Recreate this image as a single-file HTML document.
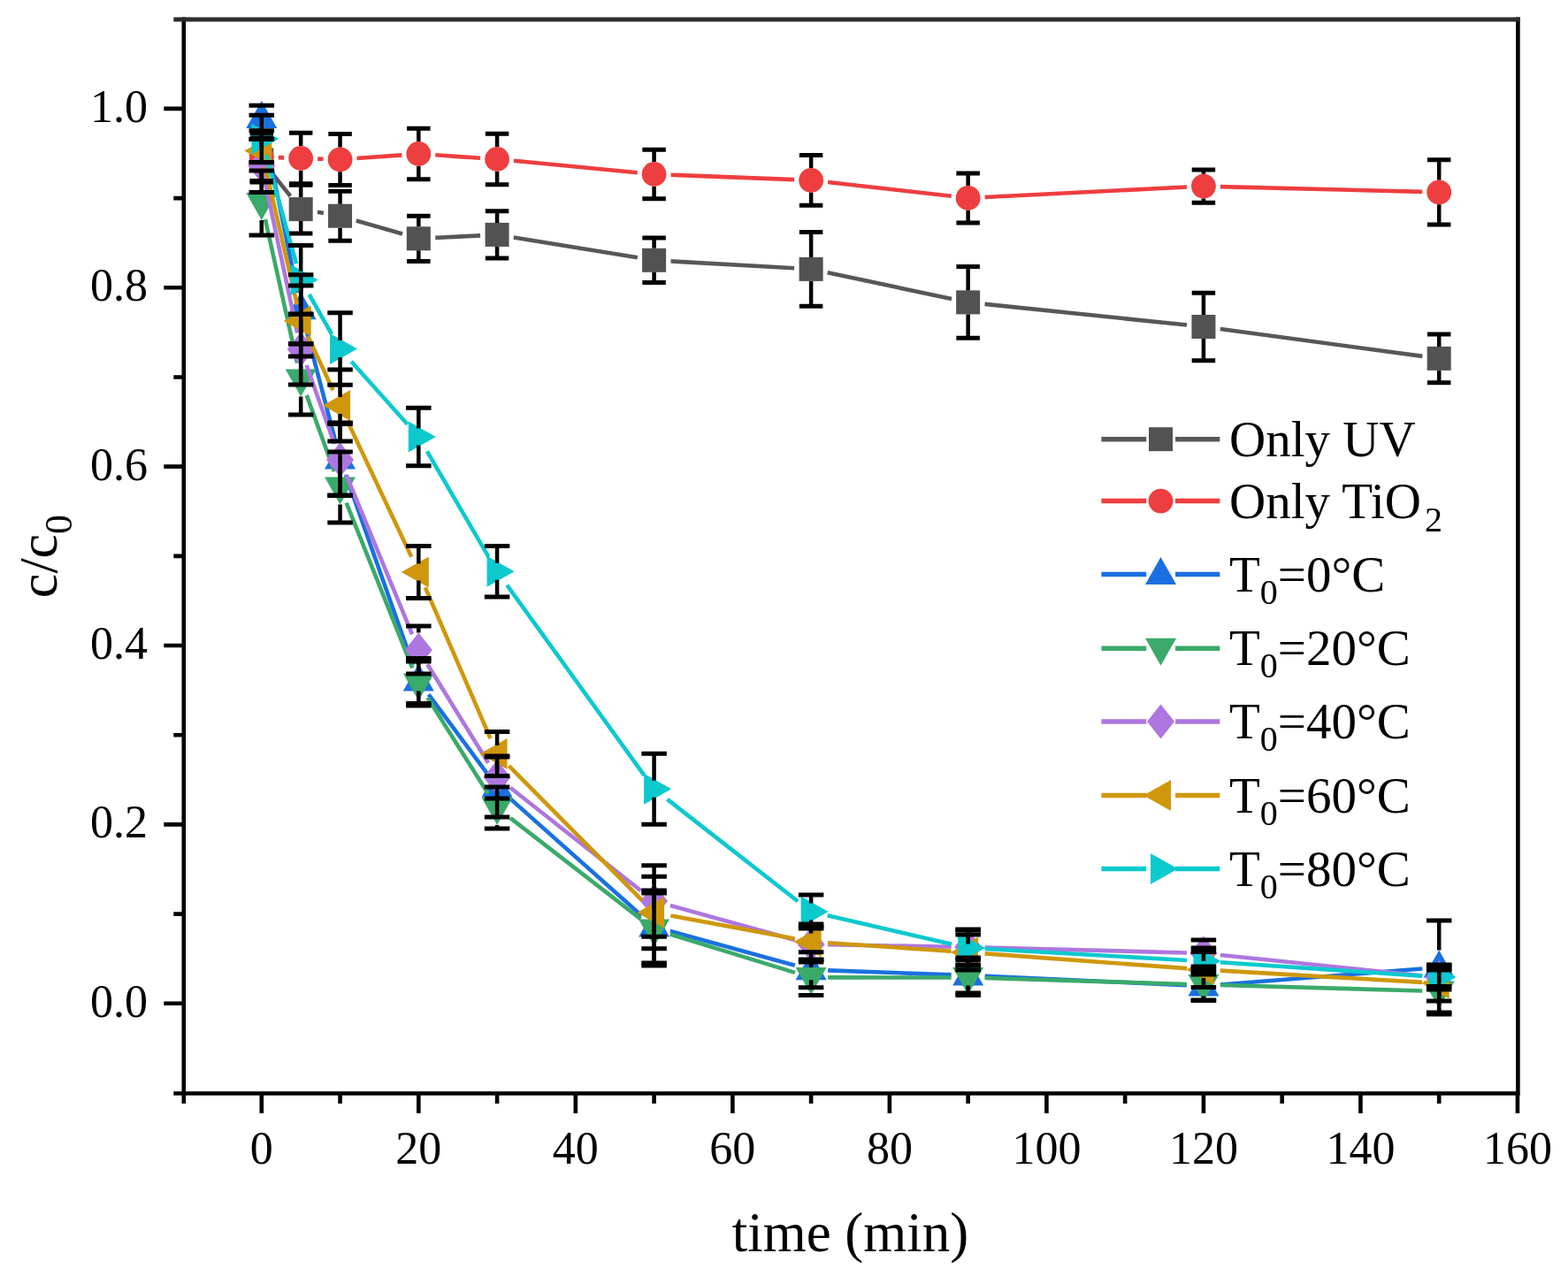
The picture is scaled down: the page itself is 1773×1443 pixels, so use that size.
<!DOCTYPE html>
<html><head><meta charset="utf-8"><style>
html,body{margin:0;padding:0;background:#fff;}
svg{display:block;}
text{font-family:"Liberation Serif","Times New Roman",serif;fill:#000;}
</style></head><body>
<svg width="1773" height="1443" viewBox="0 0 1773 1443">
<rect width="1773" height="1443" fill="#fff"/>
<path d="M1716.40 19.50V1236.50M1718.70 1236.50H205.50M207.80 1236.50V19.50" stroke="#000" stroke-width="4.6" fill="none"/>
<path d="M295.80 1236.50v22.5M473.32 1236.50v22.5M650.84 1236.50v22.5M828.36 1236.50v22.5M1005.88 1236.50v22.5M1183.40 1236.50v22.5M1360.92 1236.50v22.5M1538.44 1236.50v22.5M1715.96 1236.50v22.5M207.80 1236.50v11.5M384.56 1236.50v11.5M562.08 1236.50v11.5M739.60 1236.50v11.5M917.12 1236.50v11.5M1094.64 1236.50v11.5M1272.16 1236.50v11.5M1449.68 1236.50v11.5M1627.20 1236.50v11.5M207.80 1134.80h-22.5M207.80 932.42h-22.5M207.80 730.04h-22.5M207.80 527.66h-22.5M207.80 325.28h-22.5M207.80 122.90h-22.5M207.80 1236.50h-11.5M207.80 1033.61h-11.5M207.80 831.23h-11.5M207.80 628.85h-11.5M207.80 426.47h-11.5M207.80 224.09h-11.5" stroke="#000" stroke-width="4.6" fill="none"/>
<text x="295.80" y="1316" text-anchor="middle" font-size="52">0</text>
<text x="473.32" y="1316" text-anchor="middle" font-size="52">20</text>
<text x="650.84" y="1316" text-anchor="middle" font-size="52">40</text>
<text x="828.36" y="1316" text-anchor="middle" font-size="52">60</text>
<text x="1005.88" y="1316" text-anchor="middle" font-size="52">80</text>
<text x="1183.40" y="1316" text-anchor="middle" font-size="52">100</text>
<text x="1360.92" y="1316" text-anchor="middle" font-size="52">120</text>
<text x="1538.44" y="1316" text-anchor="middle" font-size="52">140</text>
<text x="1715.96" y="1316" text-anchor="middle" font-size="52">160</text>
<text x="167" y="1149.80" text-anchor="end" font-size="52">0.0</text>
<text x="167" y="947.42" text-anchor="end" font-size="52">0.2</text>
<text x="167" y="745.04" text-anchor="end" font-size="52">0.4</text>
<text x="167" y="542.66" text-anchor="end" font-size="52">0.6</text>
<text x="167" y="340.28" text-anchor="end" font-size="52">0.8</text>
<text x="167" y="137.90" text-anchor="end" font-size="52">1.0</text>
<text x="961.5" y="1415" text-anchor="middle" font-size="63">time (min)</text>
<text transform="translate(64,629) rotate(-90)" text-anchor="middle" font-size="62">c/c<tspan font-size="44" dy="17">0</tspan></text>
<path d="M196.30 22.00H1718.70" stroke="#2c2c2c" stroke-width="5" fill="none"/>
<path d="M307.65 195.85L328.33 221.75M358.91 239.81L365.83 240.99M402.82 249.47L455.06 264.53M492.30 268.86L543.10 266.34M580.83 268.45L720.85 291.25M758.57 295.38L898.15 303.32M935.71 308.33L1076.05 337.97M1113.54 343.86L1342.02 367.54M1379.75 372.04L1608.37 402.86" stroke="#575757" stroke-width="4.6" fill="none"/>
<rect x="282.30" y="167.50" width="27.00" height="27.00" fill="#525252"/>
<rect x="326.68" y="223.10" width="27.00" height="27.00" fill="#525252"/>
<rect x="371.06" y="230.70" width="27.00" height="27.00" fill="#525252"/>
<rect x="459.82" y="256.30" width="27.00" height="27.00" fill="#525252"/>
<rect x="548.58" y="251.90" width="27.00" height="27.00" fill="#525252"/>
<rect x="726.10" y="280.80" width="27.00" height="27.00" fill="#525252"/>
<rect x="903.62" y="290.90" width="27.00" height="27.00" fill="#525252"/>
<rect x="1081.14" y="328.40" width="27.00" height="27.00" fill="#525252"/>
<rect x="1347.42" y="356.00" width="27.00" height="27.00" fill="#525252"/>
<rect x="1613.70" y="391.90" width="27.00" height="27.00" fill="#525252"/>
<path d="M314.79 178.14L321.19 178.36M359.17 179.60L365.57 179.80M403.51 179.03L454.37 175.37M492.28 175.28L543.12 178.72M580.99 181.81L720.69 195.19M758.59 197.74L898.13 203.16M936.00 206.03L1075.76 221.77M1113.62 222.95L1341.94 211.55M1379.91 211.09L1608.21 216.91" stroke="#EE3E3F" stroke-width="4.6" fill="none"/>
<circle cx="295.80" cy="177.50" r="13.90" fill="#EE3E3F"/>
<circle cx="340.18" cy="179.00" r="13.90" fill="#EE3E3F"/>
<circle cx="384.56" cy="180.40" r="13.90" fill="#EE3E3F"/>
<circle cx="473.32" cy="174.00" r="13.90" fill="#EE3E3F"/>
<circle cx="562.08" cy="180.00" r="13.90" fill="#EE3E3F"/>
<circle cx="739.60" cy="197.00" r="13.90" fill="#EE3E3F"/>
<circle cx="917.12" cy="203.90" r="13.90" fill="#EE3E3F"/>
<circle cx="1094.64" cy="223.90" r="13.90" fill="#EE3E3F"/>
<circle cx="1360.92" cy="210.60" r="13.90" fill="#EE3E3F"/>
<circle cx="1627.20" cy="217.40" r="13.90" fill="#EE3E3F"/>
<path d="M299.62 152.11L336.36 331.09M345.00 368.08L379.74 500.62M390.89 536.91L466.99 752.09M484.62 785.28L550.78 874.72M576.27 902.63L725.41 1035.37M757.92 1053.03L898.80 1091.67M936.11 1097.37L1075.65 1102.33M1113.62 1103.86L1341.94 1114.14M1379.86 1113.51L1608.26 1095.49" stroke="#1A70E0" stroke-width="4.6" fill="none"/>
<polygon points="295.80,114.00 313.30,145.00 278.30,145.00" fill="#1A70E0"/>
<polygon points="340.18,330.20 357.68,361.20 322.68,361.20" fill="#1A70E0"/>
<polygon points="384.56,499.50 402.06,530.50 367.06,530.50" fill="#1A70E0"/>
<polygon points="473.32,750.50 490.82,781.50 455.82,781.50" fill="#1A70E0"/>
<polygon points="562.08,870.50 579.58,901.50 544.58,901.50" fill="#1A70E0"/>
<polygon points="739.60,1028.50 757.10,1059.50 722.10,1059.50" fill="#1A70E0"/>
<polygon points="917.12,1077.20 934.62,1108.20 899.62,1108.20" fill="#1A70E0"/>
<polygon points="1094.64,1083.50 1112.14,1114.50 1077.14,1114.50" fill="#1A70E0"/>
<polygon points="1360.92,1095.50 1378.42,1126.50 1343.42,1126.50" fill="#1A70E0"/>
<polygon points="1627.20,1074.50 1644.70,1105.50 1609.70,1105.50" fill="#1A70E0"/>
<path d="M299.93 248.05L336.05 410.45M346.68 446.86L378.06 533.14M391.61 568.64L466.27 755.36M483.47 789.06L551.93 897.44M577.10 925.13L724.58 1039.37M757.77 1056.57L898.95 1099.83M936.12 1105.41L1075.64 1105.49M1113.63 1106.07L1341.93 1112.93M1379.91 1114.03L1608.21 1120.47" stroke="#3AAA6A" stroke-width="4.6" fill="none"/>
<polygon points="295.80,249.00 313.30,218.00 278.30,218.00" fill="#3AAA6A"/>
<polygon points="340.18,448.50 357.68,417.50 322.68,417.50" fill="#3AAA6A"/>
<polygon points="384.56,570.50 402.06,539.50 367.06,539.50" fill="#3AAA6A"/>
<polygon points="473.32,792.50 490.82,761.50 455.82,761.50" fill="#3AAA6A"/>
<polygon points="562.08,933.00 579.58,902.00 544.58,902.00" fill="#3AAA6A"/>
<polygon points="739.60,1070.50 757.10,1039.50 722.10,1039.50" fill="#3AAA6A"/>
<polygon points="917.12,1124.90 934.62,1093.90 899.62,1093.90" fill="#3AAA6A"/>
<polygon points="1094.64,1125.00 1112.14,1094.00 1077.14,1094.00" fill="#3AAA6A"/>
<polygon points="1360.92,1133.00 1378.42,1102.00 1343.42,1102.00" fill="#3AAA6A"/>
<polygon points="1627.20,1140.50 1644.70,1109.50 1609.70,1109.50" fill="#3AAA6A"/>
<path d="M299.77 205.98L336.21 376.42M346.54 412.90L378.20 502.10M391.81 537.56L466.07 717.44M483.29 751.17L552.11 862.83M577.00 890.77L724.68 1007.23M757.92 1024.06L898.80 1062.94M936.12 1068.32L1075.64 1070.68M1113.63 1071.50L1341.93 1077.50M1379.82 1079.94L1608.30 1103.46" stroke="#AE76DF" stroke-width="4.6" fill="none"/>
<polygon points="295.80,167.90 311.30,187.40 295.80,206.90 280.30,187.40" fill="#AE76DF"/>
<polygon points="340.18,375.50 355.68,395.00 340.18,414.50 324.68,395.00" fill="#AE76DF"/>
<polygon points="384.56,500.50 400.06,520.00 384.56,539.50 369.06,520.00" fill="#AE76DF"/>
<polygon points="473.32,715.50 488.82,735.00 473.32,754.50 457.82,735.00" fill="#AE76DF"/>
<polygon points="562.08,859.50 577.58,879.00 562.08,898.50 546.58,879.00" fill="#AE76DF"/>
<polygon points="739.60,999.50 755.10,1019.00 739.60,1038.50 724.10,1019.00" fill="#AE76DF"/>
<polygon points="917.12,1048.50 932.62,1068.00 917.12,1087.50 901.62,1068.00" fill="#AE76DF"/>
<polygon points="1094.64,1051.50 1110.14,1071.00 1094.64,1090.50 1079.14,1071.00" fill="#AE76DF"/>
<polygon points="1360.92,1058.50 1376.42,1078.00 1360.92,1097.50 1345.42,1078.00" fill="#AE76DF"/>
<polygon points="1627.20,1085.90 1642.70,1105.40 1627.20,1124.90 1611.70,1105.40" fill="#AE76DF"/>
<path d="M300.07 188.91L335.91 344.49M348.19 380.23L376.55 441.27M392.65 475.69L465.23 629.81M480.85 664.44L554.55 835.06M575.44 866.01L726.24 1018.49M758.28 1035.47L898.44 1061.53M936.08 1066.28L1075.68 1075.72M1113.59 1078.39L1341.97 1095.11M1379.89 1097.60L1608.23 1110.90" stroke="#CF970B" stroke-width="4.6" fill="none"/>
<polygon points="276.30,170.40 307.30,152.90 307.30,187.90" fill="#CF970B"/>
<polygon points="320.68,363.00 351.68,345.50 351.68,380.50" fill="#CF970B"/>
<polygon points="365.06,458.50 396.06,441.00 396.06,476.00" fill="#CF970B"/>
<polygon points="453.82,647.00 484.82,629.50 484.82,664.50" fill="#CF970B"/>
<polygon points="542.58,852.50 573.58,835.00 573.58,870.00" fill="#CF970B"/>
<polygon points="720.10,1032.00 751.10,1014.50 751.10,1049.50" fill="#CF970B"/>
<polygon points="897.62,1065.00 928.62,1047.50 928.62,1082.50" fill="#CF970B"/>
<polygon points="1075.14,1077.00 1106.14,1059.50 1106.14,1094.50" fill="#CF970B"/>
<polygon points="1341.42,1096.50 1372.42,1079.00 1372.42,1114.00" fill="#CF970B"/>
<polygon points="1607.70,1112.00 1638.70,1094.50 1638.70,1129.50" fill="#CF970B"/>
<path d="M300.89 175.30L335.09 298.20M349.58 333.01L375.16 377.99M397.21 408.68L460.67 479.82M482.89 510.42L552.51 629.88M573.20 661.71L728.48 876.79M754.57 903.90L902.15 1019.30M935.63 1035.28L1076.13 1067.72M1113.61 1073.07L1341.95 1085.93M1379.88 1088.28L1608.24 1103.72" stroke="#0CC9CE" stroke-width="4.6" fill="none"/>
<polygon points="315.30,157.00 284.30,139.50 284.30,174.50" fill="#0CC9CE"/>
<polygon points="359.68,316.50 328.68,299.00 328.68,334.00" fill="#0CC9CE"/>
<polygon points="404.06,394.50 373.06,377.00 373.06,412.00" fill="#0CC9CE"/>
<polygon points="492.82,494.00 461.82,476.50 461.82,511.50" fill="#0CC9CE"/>
<polygon points="581.58,646.30 550.58,628.80 550.58,663.80" fill="#0CC9CE"/>
<polygon points="759.10,892.20 728.10,874.70 728.10,909.70" fill="#0CC9CE"/>
<polygon points="936.62,1031.00 905.62,1013.50 905.62,1048.50" fill="#0CC9CE"/>
<polygon points="1114.14,1072.00 1083.14,1054.50 1083.14,1089.50" fill="#0CC9CE"/>
<polygon points="1380.42,1087.00 1349.42,1069.50 1349.42,1104.50" fill="#0CC9CE"/>
<polygon points="1646.70,1105.00 1615.70,1087.50 1615.70,1122.50" fill="#0CC9CE"/>
<path d="M295.80 156.00V167.50M295.80 194.50V206.00M340.18 209.20V223.10M340.18 250.10V264.00M384.56 216.20V230.70M384.56 257.70V272.20M473.32 244.20V256.30M473.32 283.30V295.40M562.08 238.80V251.90M562.08 278.90V292.00M739.60 269.10V280.80M739.60 307.80V319.50M917.12 262.60V290.90M917.12 317.90V346.20M1094.64 301.50V328.40M1094.64 355.40V382.30M1360.92 331.20V356.00M1360.92 383.00V407.80M1627.20 378.10V391.90M1627.20 418.90V432.70" stroke="#000" stroke-width="4.5" fill="none"/>
<path d="M282.55 156.00H309.05M282.55 206.00H309.05M326.93 209.20H353.43M326.93 264.00H353.43M371.31 216.20H397.81M371.31 272.20H397.81M460.07 244.20H486.57M460.07 295.40H486.57M548.83 238.80H575.33M548.83 292.00H575.33M726.35 269.10H752.85M726.35 319.50H752.85M903.87 262.60H930.37M903.87 346.20H930.37M1081.39 301.50H1107.89M1081.39 382.30H1107.89M1347.67 331.20H1374.17M1347.67 407.80H1374.17M1613.95 378.10H1640.45M1613.95 432.70H1640.45" stroke="#000" stroke-width="5.0" fill="none"/>
<path d="M295.80 150.50V163.60M295.80 191.40V204.50M340.18 150.20V165.10M340.18 192.90V207.80M384.56 151.40V166.50M384.56 194.30V209.40M473.32 145.30V160.10M473.32 187.90V202.70M562.08 151.30V166.10M562.08 193.90V208.70M739.60 169.20V183.10M739.60 210.90V224.80M917.12 175.50V190.00M917.12 217.80V232.30M1094.64 195.90V210.00M1094.64 237.80V251.90M1360.92 191.90V196.70M1360.92 224.50V229.30M1627.20 180.70V203.50M1627.20 231.30V254.10" stroke="#000" stroke-width="4.5" fill="none"/>
<path d="M282.55 150.50H309.05M282.55 204.50H309.05M326.93 150.20H353.43M326.93 207.80H353.43M371.31 151.40H397.81M371.31 209.40H397.81M460.07 145.30H486.57M460.07 202.70H486.57M548.83 151.30H575.33M548.83 208.70H575.33M726.35 169.20H752.85M726.35 224.80H752.85M903.87 175.50H930.37M903.87 232.30H930.37M1081.39 195.90H1107.89M1081.39 251.90H1107.89M1347.67 191.90H1374.17M1347.67 229.30H1374.17M1613.95 180.70H1640.45M1613.95 254.10H1640.45" stroke="#000" stroke-width="5.0" fill="none"/>
<path d="M295.80 145.00V147.70M340.18 310.70V330.20M340.18 361.20V388.70M384.56 478.00V499.50M384.56 530.50V560.00M473.32 744.50V750.50M473.32 781.50V795.50M562.08 856.00V870.50M562.08 901.50V924.00M739.60 1007.00V1028.50M739.60 1059.50V1089.00M917.12 1076.70V1077.20M917.12 1108.20V1116.70M1094.64 1083.00V1083.50M1094.64 1114.50V1123.00M1360.92 1126.50V1131.00M1627.20 1041.00V1074.50M1627.20 1105.50V1147.00" stroke="#000" stroke-width="4.5" fill="none"/>
<path d="M281.55 119.30H310.05M281.55 147.70H310.05M325.93 310.70H354.43M325.93 388.70H354.43M370.31 478.00H398.81M370.31 560.00H398.81M459.07 744.50H487.57M459.07 795.50H487.57M547.83 856.00H576.33M547.83 924.00H576.33M725.35 1007.00H753.85M725.35 1089.00H753.85M902.87 1076.70H931.37M902.87 1116.70H931.37M1080.39 1083.00H1108.89M1080.39 1123.00H1108.89M1346.67 1099.00H1375.17M1346.67 1131.00H1375.17M1612.95 1041.00H1641.45M1612.95 1147.00H1641.45" stroke="#000" stroke-width="5.0" fill="none"/>
<path d="M295.80 193.00V218.00M295.80 249.00V266.00M340.18 389.00V417.50M340.18 448.50V469.00M384.56 511.00V539.50M384.56 570.50V591.00M473.32 748.00V761.50M473.32 792.50V798.00M562.08 890.00V902.00M562.08 933.00V937.00M739.60 1010.00V1039.50M739.60 1070.50V1092.00M917.12 1085.40V1093.90M917.12 1124.90V1125.40M1094.64 1085.50V1094.00M1094.64 1125.00V1125.50M1360.92 1095.50V1102.00M1627.20 1097.00V1109.50M1627.20 1140.50V1145.00" stroke="#000" stroke-width="4.5" fill="none"/>
<path d="M281.55 193.00H310.05M281.55 266.00H310.05M325.93 389.00H354.43M325.93 469.00H354.43M370.31 511.00H398.81M370.31 591.00H398.81M459.07 748.00H487.57M459.07 798.00H487.57M547.83 890.00H576.33M547.83 937.00H576.33M725.35 1010.00H753.85M725.35 1092.00H753.85M902.87 1085.40H931.37M902.87 1125.40H931.37M1080.39 1085.50H1108.89M1080.39 1125.50H1108.89M1346.67 1095.50H1375.17M1346.67 1131.50H1375.17M1612.95 1097.00H1641.45M1612.95 1145.00H1641.45" stroke="#000" stroke-width="5.0" fill="none"/>
<path d="M295.80 157.40V167.90M295.80 206.90V217.40M340.18 355.00V375.50M340.18 414.50V435.00M384.56 479.50V500.50M384.56 539.50V560.50M473.32 708.00V715.50M473.32 754.50V762.00M562.08 855.00V859.50M562.08 898.50V903.00M739.60 978.70V999.50M739.60 1038.50V1059.30M917.12 1048.00V1048.50M917.12 1087.50V1088.00M1094.64 1051.00V1051.50M1094.64 1090.50V1091.00" stroke="#000" stroke-width="4.5" fill="none"/>
<path d="M281.55 157.40H310.05M281.55 217.40H310.05M325.93 355.00H354.43M325.93 435.00H354.43M370.31 479.50H398.81M370.31 560.50H398.81M459.07 708.00H487.57M459.07 762.00H487.57M547.83 855.00H576.33M547.83 903.00H576.33M725.35 978.70H753.85M725.35 1059.30H753.85M902.87 1048.00H931.37M902.87 1088.00H931.37M1080.39 1051.00H1108.89M1080.39 1091.00H1108.89M1346.67 1063.00H1375.17M1346.67 1093.00H1375.17M1612.95 1095.40H1641.45M1612.95 1115.40H1641.45" stroke="#000" stroke-width="5.0" fill="none"/>
<path d="M295.80 157.40V160.89M295.80 179.91V183.40M340.18 323.00V353.49M340.18 372.51V403.00M384.56 418.00V448.99M384.56 468.01V499.00M473.32 617.50V637.49M473.32 656.51V676.50M562.08 827.50V842.99M562.08 862.01V877.50M739.60 991.20V1022.49M739.60 1041.51V1072.80M917.12 1045.00V1055.49M917.12 1074.51V1085.00M1094.64 1057.00V1067.49M1094.64 1086.51V1097.00M1360.92 1076.50V1086.99M1360.92 1106.01V1116.50M1627.20 1092.00V1102.49M1627.20 1121.51V1132.00" stroke="#000" stroke-width="4.5" fill="none"/>
<path d="M281.55 157.40H310.05M281.55 183.40H310.05M325.93 323.00H354.43M325.93 403.00H354.43M370.31 418.00H398.81M370.31 499.00H398.81M459.07 617.50H487.57M459.07 676.50H487.57M547.83 827.50H576.33M547.83 877.50H576.33M725.35 991.20H753.85M725.35 1072.80H753.85M902.87 1045.00H931.37M902.87 1085.00H931.37M1080.39 1057.00H1108.89M1080.39 1097.00H1108.89M1346.67 1076.50H1375.17M1346.67 1116.50H1375.17M1612.95 1092.00H1641.45M1612.95 1132.00H1641.45" stroke="#000" stroke-width="5.0" fill="none"/>
<path d="M295.80 130.30V147.49M295.80 166.51V183.70M340.18 277.50V306.99M340.18 326.01V355.50M384.56 353.70V384.99M384.56 404.01V435.30M473.32 461.20V484.49M473.32 503.51V526.80M562.08 617.60V636.79M562.08 655.81V675.00M739.60 852.20V882.69M739.60 901.71V932.20M917.12 1012.00V1021.49M917.12 1040.51V1050.00M1094.64 1052.00V1062.49M1094.64 1081.51V1092.00M1360.92 1072.00V1077.49M1360.92 1096.51V1102.00M1627.20 1091.00V1095.49M1627.20 1114.51V1119.00" stroke="#000" stroke-width="4.5" fill="none"/>
<path d="M281.55 130.30H310.05M281.55 183.70H310.05M325.93 277.50H354.43M325.93 355.50H354.43M370.31 353.70H398.81M370.31 435.30H398.81M459.07 461.20H487.57M459.07 526.80H487.57M547.83 617.60H576.33M547.83 675.00H576.33M725.35 852.20H753.85M725.35 932.20H753.85M902.87 1012.00H931.37M902.87 1050.00H931.37M1080.39 1052.00H1108.89M1080.39 1092.00H1108.89M1346.67 1072.00H1375.17M1346.67 1102.00H1375.17M1612.95 1091.00H1641.45M1612.95 1119.00H1641.45" stroke="#000" stroke-width="5.0" fill="none"/>
<path d="M1245.4 496.7H1296.2M1329.0 496.7H1379.3" stroke="#575757" stroke-width="5.5" fill="none"/>
<rect x="1299.00" y="483.20" width="27.00" height="27.00" fill="#525252"/>
<text x="1390" y="515.7" font-size="57">Only UV</text>
<path d="M1245.4 566.6H1296.2M1329.0 566.6H1379.3" stroke="#EE3E3F" stroke-width="5.5" fill="none"/>
<circle cx="1312.50" cy="566.60" r="13.90" fill="#EE3E3F"/>
<text x="1390" y="585.6" font-size="57">Only TiO<tspan font-size="40" dx="4" dy="15.5">2</tspan></text>
<path d="M1245.4 649.6H1296.2M1329.0 649.6H1379.3" stroke="#1A70E0" stroke-width="5.5" fill="none"/>
<polygon points="1312.50,630.10 1330.00,661.10 1295.00,661.10" fill="#1A70E0"/>
<text x="1390" y="668.6" font-size="57">T<tspan font-size="40" dy="14">0</tspan><tspan dy="-14">=0°C</tspan></text>
<path d="M1245.4 733.2H1296.2M1329.0 733.2H1379.3" stroke="#3AAA6A" stroke-width="5.5" fill="none"/>
<polygon points="1312.50,752.70 1330.00,721.70 1295.00,721.70" fill="#3AAA6A"/>
<text x="1390" y="752.2" font-size="57">T<tspan font-size="40" dy="14">0</tspan><tspan dy="-14">=20°C</tspan></text>
<path d="M1245.4 816.0H1296.2M1329.0 816.0H1379.3" stroke="#AE76DF" stroke-width="5.5" fill="none"/>
<polygon points="1312.50,796.50 1328.00,816.00 1312.50,835.50 1297.00,816.00" fill="#AE76DF"/>
<text x="1390" y="835.0" font-size="57">T<tspan font-size="40" dy="14">0</tspan><tspan dy="-14">=40°C</tspan></text>
<path d="M1245.4 899.6H1296.2M1329.0 899.6H1379.3" stroke="#CF970B" stroke-width="5.5" fill="none"/>
<polygon points="1293.00,899.60 1324.00,882.10 1324.00,917.10" fill="#CF970B"/>
<text x="1390" y="918.6" font-size="57">T<tspan font-size="40" dy="14">0</tspan><tspan dy="-14">=60°C</tspan></text>
<path d="M1245.4 982.6H1296.2M1329.0 982.6H1379.3" stroke="#0CC9CE" stroke-width="5.5" fill="none"/>
<polygon points="1332.00,982.60 1301.00,965.10 1301.00,1000.10" fill="#0CC9CE"/>
<text x="1390" y="1001.6" font-size="57">T<tspan font-size="40" dy="14">0</tspan><tspan dy="-14">=80°C</tspan></text>
</svg>
</body></html>
